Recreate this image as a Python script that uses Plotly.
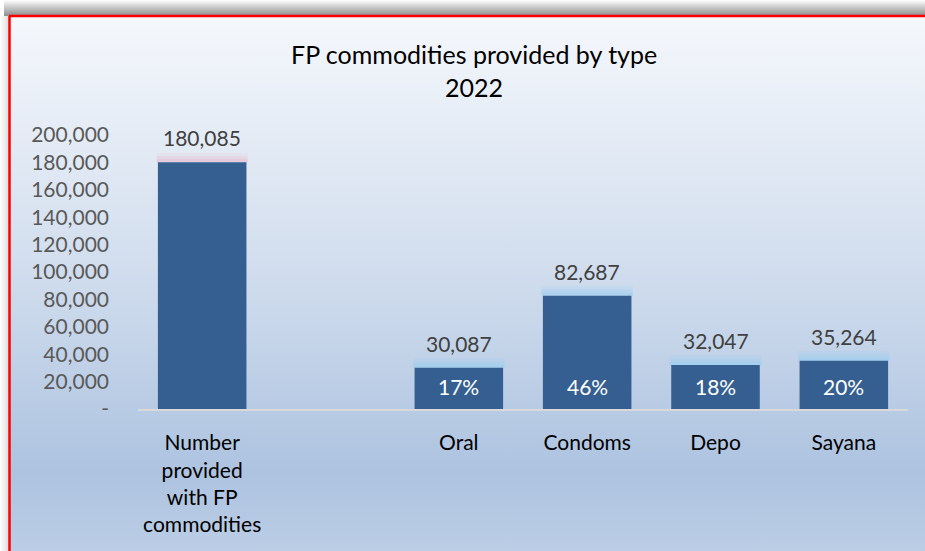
import base64
import plotly.graph_objects as go

# ---- data -------------------------------------------------------------
categories = [
    "Number<br>provided<br>with FP<br>commodities",
    " ",
    "Oral",
    "Condoms",
    "Depo",
    "Sayana",
]
values = [180085, None, 30087, 82687, 32047, 35264]
total_index = 0
method_indices = [2, 3, 4, 5]

y_tick_vals = [0, 20000, 40000, 60000, 80000, 100000, 120000, 140000,
               160000, 180000, 200000]
y_tick_text = ["-", "20,000", "40,000", "60,000", "80,000", "100,000",
               "120,000", "140,000", "160,000", "180,000", "200,000"]

title_lines = ["FP commodities provided by type", "2022"]

# ---- page geometry ----------------------------------------------------
W, H = 925, 551
M_L, M_R, M_T, M_B = 138, 17, 135, 142
plot_w = W - M_L - M_R
plot_h = H - M_T - M_B
TITLE_CX, TITLE_CY = 474, 70   # title block centre, in page pixels

FONT = "Lato, 'Open Sans', sans-serif"
BAR_COLOR = "#365f91"

# Background: soft vertical gradient panel with a red frame and grey drop shadow
bg_svg = f"""<svg xmlns='http://www.w3.org/2000/svg' width='{W}' height='{H}' viewBox='0 0 {W} {H}'>
<defs>
<linearGradient id='panel' x1='0' y1='0' x2='0' y2='1'>
<stop offset='0' stop-color='#f5f8fc'/>
<stop offset='0.45' stop-color='#d2deee'/>
<stop offset='0.83' stop-color='#adc3e0'/>
<stop offset='1' stop-color='#bfd0e7'/>
</linearGradient>
<linearGradient id='shadowTop' x1='0' y1='0' x2='0' y2='1'>
<stop offset='0' stop-color='#ffffff'/>
<stop offset='1' stop-color='#8c8c8c'/>
</linearGradient>
<linearGradient id='shadowLeft' x1='0' y1='0' x2='1' y2='0'>
<stop offset='0' stop-color='#ffffff'/>
<stop offset='1' stop-color='#dcdcdc'/>
</linearGradient>
</defs>
<rect x='0' y='0' width='{W}' height='{H}' fill='#ffffff'/>
<rect x='4' y='0' width='{W}' height='16' fill='url(#shadowTop)'/>
<rect x='0' y='16' width='9' height='{H}' fill='url(#shadowLeft)'/>
<rect x='9' y='16' width='{W}' height='{H}' fill='url(#panel)'/>
<line x1='9' y1='16' x2='{W}' y2='16' stroke='#ff0000' stroke-width='2.5'/>
<line x1='9.5' y1='16' x2='9.5' y2='{H}' stroke='#ff0000' stroke-width='2.5'/>
</svg>"""
bg_uri = "data:image/svg+xml;base64," + base64.b64encode(bg_svg.encode()).decode()

fig = go.Figure()

# soft halo over each bar top, built from a few translucent layers
for halo_h, alpha in [(7000, 0.12), (4500, 0.18), (2200, 0.25)]:
    halo_colors = [f"rgba(235,170,195,{alpha})" if i == total_index
                   else f"rgba(150,205,245,{alpha + 0.08})"
                   for i in range(len(values))]
    fig.add_trace(go.Bar(
        x=categories,
        y=[halo_h if v is not None else None for v in values],
        base=[v if v is not None else 0 for v in values],
        marker=dict(color=halo_colors, line=dict(width=0)),
        width=0.71,
        hoverinfo="skip",
        showlegend=False,
    ))

fig.add_trace(go.Bar(
    x=categories,
    y=values,
    marker=dict(color=BAR_COLOR, line=dict(width=0)),
    width=0.69,
    showlegend=False,
    hovertemplate="%{y:,}<extra></extra>",
))

annotations = []
# chart title (two centred lines)
annotations.append(dict(
    text="<br>".join(title_lines),
    xref="paper", yref="paper",
    x=(TITLE_CX - M_L) / plot_w,
    y=1 + (M_T - TITLE_CY) / plot_h,
    xanchor="center", yanchor="middle",
    showarrow=False,
    font=dict(family=FONT, size=25, color="#000000"),
))
# value labels above bars
for cat, v in zip(categories, values):
    if v is None:
        continue
    annotations.append(dict(
        x=cat, y=v, xref="x", yref="y",
        text=f"{v:,}", showarrow=False,
        yanchor="bottom", yshift=10,
        font=dict(family=FONT, size=21, color="#404040"),
    ))
# share of total printed inside each method bar
total = values[total_index]
for i in method_indices:
    pct = round(values[i] / total * 100)
    annotations.append(dict(
        x=categories[i], y=0, xref="x", yref="y",
        text=f"{pct}%", showarrow=False,
        yanchor="bottom", yshift=8,
        font=dict(family=FONT, size=21, color="#ffffff"),
    ))

fig.update_layout(
    width=W, height=H,
    margin=dict(l=M_L, r=M_R, t=M_T, b=M_B, autoexpand=False),
    paper_bgcolor="rgba(0,0,0,0)",
    plot_bgcolor="rgba(0,0,0,0)",
    barmode="overlay",
    bargap=0.31,
    font=dict(family=FONT),
    annotations=annotations,
    images=[dict(
        source=bg_uri,
        xref="paper", yref="paper",
        x=-M_L / plot_w, y=1 + M_T / plot_h,
        sizex=W / plot_w, sizey=H / plot_h,
        xanchor="left", yanchor="top",
        sizing="stretch", layer="below",
    )],
)

fig.update_xaxes(
    type="category",
    showgrid=False,
    showline=True, linecolor="#d9d9d9", linewidth=2,
    ticks="", ticklabelstandoff=14,
    tickfont=dict(family=FONT, size=21, color="#000000"),
    fixedrange=True,
)
fig.update_yaxes(
    range=[0, 200000],
    tickvals=y_tick_vals, ticktext=y_tick_text,
    showgrid=False, zeroline=False, showline=False,
    ticks="", ticklabelstandoff=28,
    tickfont=dict(family=FONT, size=21, color="#595959"),
    fixedrange=True,
)

fig.write_html("out.html", config={"displayModeBar": False})
